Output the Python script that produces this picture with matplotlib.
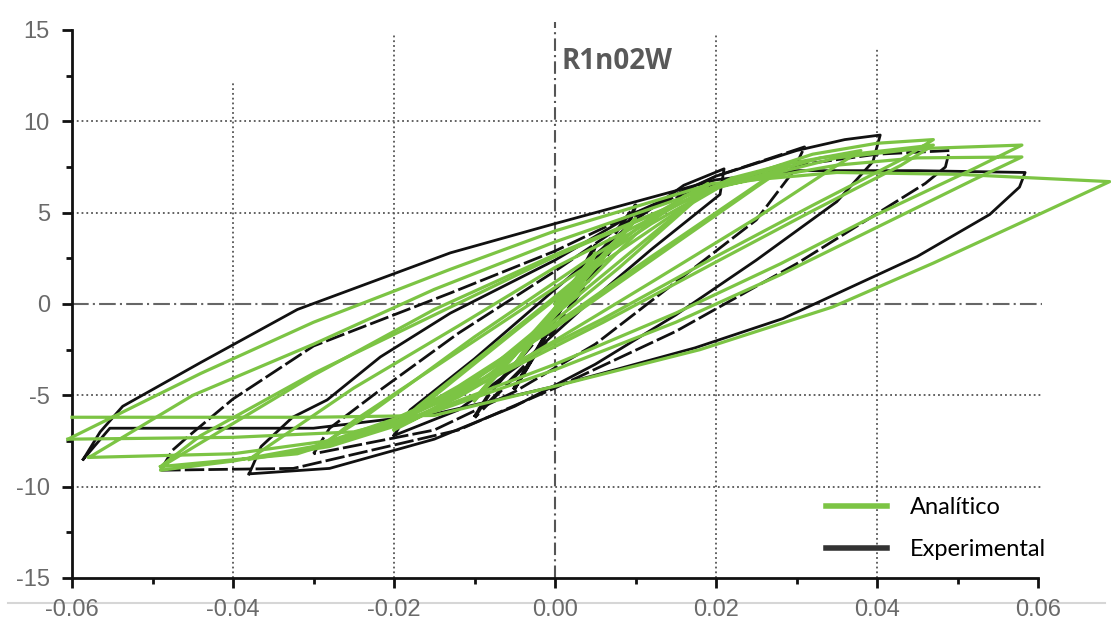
import matplotlib.pyplot as plt
import numpy as np
from matplotlib.lines import Line2D
from matplotlib.ticker import MultipleLocator, FuncFormatter

plt.rcParams['axes.unicode_minus'] = False

# Experimental cycles (drift, kN) - one closed loop per amplitude
exp1_x = [-0.005, -0.002, 0.002, 0.005, 0.004, 0.000, -0.005]
exp1_y = [-4.6, -2.4, 0.8, 3.2, 2.0, -0.8, -4.6]

exp2_x = [-0.010, -0.008, -0.003, 0.003, 0.010, 0.009, 0.004, -0.002, -0.010]
exp2_y = [-6.2, -4.8, -2.3, 1.2, 5.4, 4.2, 1.2, -2.6, -6.2]

exp3_x = [-0.020, -0.018, -0.010, 0.000, 0.010, 0.016, 0.021, 0.0205, 0.012, 0.004, -0.004, -0.012, -0.020]
exp3_y = [-7.2, -5.8, -3.0, 0.8, 4.6, 6.5, 7.4, 6.0, 3.0, 0.0, -3.2, -5.8, -7.2]

exp4_x = [-0.030, -0.028, -0.022, -0.012, 0.000, 0.010, 0.020, 0.031, 0.0295, 0.025, 0.015, 0.005, -0.005, -0.015, -0.030]
exp4_y = [-8.2, -6.8, -4.8, -1.6, 1.8, 4.8, 7.0, 8.6, 7.2, 4.6, 1.2, -2.2, -4.8, -6.9, -8.2]

exp5_x = [-0.038, -0.0365, -0.0326, -0.0283, -0.0217, -0.013, 0.000, 0.010, 0.020, 0.030, 0.036, 0.0404,
          0.0395, 0.035, 0.025, 0.015, 0.005, -0.005, -0.015, -0.028, -0.038]
exp5_y = [-9.3, -7.8, -6.2, -5.25, -2.9, -0.5, 2.4, 5.0, 7.0, 8.4, 9.0, 9.25,
          7.8, 5.6, 2.4, -0.6, -3.3, -5.6, -7.4, -9.0, -9.3]

exp6_x = [-0.049, -0.0475, -0.0457, -0.040, -0.030, -0.013, 0.000, 0.010, 0.020, 0.030, 0.040, 0.049,
          0.0485, 0.046, 0.030, 0.015, 0.000, -0.012, -0.0325, -0.049]
exp6_y = [-9.1, -8.0, -7.3, -5.2, -2.3, 0.6, 2.9, 5.0, 6.6, 7.6, 8.2, 8.4,
          7.5, 6.6, 2.2, -1.5, -4.6, -6.9, -9.0, -9.1]

exp7_x = [-0.0586, -0.0565, -0.0537, -0.044, -0.032, -0.013, 0.000, 0.010, 0.020, 0.030, 0.045, 0.0584,
          0.0577, 0.054, 0.045, 0.0283, 0.0174, 0.000, -0.0147, -0.030, -0.0553, -0.0586]
exp7_y = [-8.5, -7.0, -5.6, -3.2, -0.3, 2.8, 4.4, 5.6, 6.8, 7.3, 7.3, 7.2,
          6.4, 4.9, 2.6, -0.8, -2.4, -4.5, -6.0, -6.8, -6.8, -8.5]

# Analytical response, continuous path split by amplitude
ana1_x = [0.0, 0.005, 0.0038, -0.005, -0.0038, 0.005, 0.0038, -0.005]
ana1_y = [0.0, 2.7, 1.8, -3.3, -2.5, 2.8, 1.9, -3.4]

ana2_x = [-0.005, -0.003, 0.010, 0.0085, -0.010, -0.0085, 0.010, 0.0085, -0.010]
ana2_y = [-3.4, -2.2, 4.6, 3.8, -5.2, -4.4, 4.7, 3.9, -5.3]

ana3_x = [-0.010, -0.007, 0.010, 0.016, 0.019, 0.017, 0.008, -0.008, -0.014, -0.020,
          -0.017, 0.000, 0.012, 0.019, 0.017, 0.006, -0.010, -0.016, -0.020]
ana3_y = [-5.3, -3.6, 3.8, 5.9, 6.5, 5.5, 2.0, -3.8, -5.6, -6.8,
          -5.6, 0.4, 4.8, 6.6, 5.6, 1.6, -4.2, -6.0, -6.9]

ana4_x = [-0.020, -0.016, -0.005, 0.005, 0.015, 0.022, 0.029, 0.025, 0.012, 0.000, -0.012, -0.020, -0.029,
          -0.024, -0.010, 0.005, 0.015, 0.022, 0.029, 0.025, 0.012, 0.000, -0.012, -0.020, -0.029]
ana4_y = [-6.9, -5.4, -1.5, 2.0, 5.0, 6.8, 7.6, 6.4, 2.4, -1.3, -4.7, -6.6, -7.7,
          -6.3, -1.8, 2.7, 5.4, 6.9, 7.7, 6.5, 2.6, -1.1, -4.5, -6.5, -7.8]

ana5_x = [-0.029, -0.025, -0.012, 0.000, 0.012, 0.020, 0.028, 0.038,
          0.034, 0.025, 0.012, 0.000, -0.012, -0.020, -0.028, -0.038]
ana5_y = [-7.8, -6.4, -2.6, 0.9, 4.4, 6.4, 7.6, 8.4,
          7.3, 4.7, 1.2, -2.0, -5.1, -6.7, -7.8, -8.5]

ana6_x = [-0.038, -0.034, -0.025, -0.012, 0.000, 0.0196, 0.032, 0.040, 0.047,
          0.043, 0.032, 0.020, 0.006, -0.008, -0.020, -0.030, -0.040, -0.049,
          -0.0485, -0.044, -0.030, -0.015, 0.000, 0.0196, 0.033, 0.047,
          0.043, 0.032, 0.020, 0.006, -0.008, -0.020, -0.032, -0.049]
ana6_y = [-8.5, -7.3, -4.6, -1.2, 2.0, 6.4, 8.2, 8.8, 9.0,
          7.9, 5.4, 2.6, -0.8, -3.9, -6.3, -7.8, -8.6, -9.1,
          -8.8, -7.6, -3.9, -0.3, 2.7, 6.3, 8.0, 8.7,
          7.6, 5.1, 2.3, -1.0, -4.1, -6.5, -8.2, -8.9]

ana7_x = [-0.049, -0.044, -0.030, -0.015, 0.000, 0.0196, 0.035, 0.045, 0.058,
          0.052, 0.040, 0.028, 0.015, 0.000, -0.015, -0.025, -0.040, -0.058,
          -0.0575, -0.045, -0.030, -0.015, 0.000, 0.0196, 0.035, 0.045, 0.058,
          0.052, 0.040, 0.028, 0.015, 0.000, -0.015, -0.025, -0.040, -0.0605]
ana7_y = [-8.9, -7.2, -3.8, -0.6, 2.6, 6.3, 8.0, 8.5, 8.7,
          7.4, 4.9, 2.2, -0.5, -3.3, -5.8, -7.3, -8.2, -8.4,
          -8.3, -5.0, -2.2, 0.8, 3.4, 6.4, 7.6, 8.0, 8.05,
          6.8, 4.2, 1.6, -1.0, -3.6, -5.9, -7.0, -7.3, -7.4]

ana8_x = [-0.0605, -0.055, -0.044, -0.030, -0.013, 0.000, 0.0196, 0.035, 0.050, 0.0689,
          0.0594, 0.047, 0.0345, 0.018, 0.000, -0.015, -0.030, -0.060]
ana8_y = [-7.4, -6.2, -3.8, -1.0, 1.9, 4.0, 6.6, 7.2, 7.1, 6.7,
          4.76, 2.24, -0.16, -2.5, -4.5, -6.1, -6.2, -6.2]

exp_cycles = [(exp1_x, exp1_y), (exp2_x, exp2_y), (exp3_x, exp3_y), (exp4_x, exp4_y),
              (exp5_x, exp5_y), (exp6_x, exp6_y), (exp7_x, exp7_y)]
ana_cycles = [(ana1_x, ana1_y), (ana2_x, ana2_y), (ana3_x, ana3_y), (ana4_x, ana4_y),
              (ana5_x, ana5_y), (ana6_x, ana6_y), (ana7_x, ana7_y), (ana8_x, ana8_y)]

GREEN = '#7cc444'
BLACK = '#111111'

fig = plt.figure(figsize=(11.11, 6.21), dpi=100)
ax = fig.add_axes([72 / 1111, 43 / 621, 966 / 1111, 548 / 621])
ax.set_xlim(-0.06, 0.06)
ax.set_ylim(-15, 15)

# grid
for gx, top in [(-0.04, 12.2), (-0.02, 14.8), (0.02, 14.8), (0.04, 14.0)]:
    ax.plot([gx, gx], [-15, top], color='#555555', lw=1.3, ls=':', zorder=1)
for gy in [-10, -5, 5, 10]:
    ax.plot([-0.06, 0.0605], [gy, gy], color='#555555', lw=1.3, ls=':', zorder=1, clip_on=False)
ax.plot([-0.06, 0.0605], [0, 0], color='#666666', lw=1.5, ls=(0, (8, 2, 1, 2)), zorder=1, clip_on=False)
ax.plot([0, 0], [-15, 15.45], color='#555555', lw=1.5, ls=(0, (6, 2, 1, 2)), zorder=1, clip_on=False)

# experimental loops (small central ones drawn heavier)
for i, (cx, cy) in enumerate(exp_cycles):
    ls = '-' if i % 2 == 0 else (0, (7, 1.5))
    lw = 2.8 if i < 2 else 2.0
    ax.plot(cx, cy, color=BLACK, lw=lw, ls=ls, zorder=2, clip_on=False,
            solid_joinstyle='round', dash_joinstyle='round')

# analytical path
for cx, cy in ana_cycles:
    ax.plot(cx, cy, color=GREEN, lw=2.3, zorder=3, clip_on=False, solid_joinstyle='round')

# axes styling
for s in ['top', 'right']:
    ax.spines[s].set_visible(False)
for s in ['left', 'bottom']:
    ax.spines[s].set_linewidth(2.0)
    ax.spines[s].set_color('#111111')

ax.xaxis.set_major_locator(MultipleLocator(0.02))
ax.xaxis.set_minor_locator(MultipleLocator(0.01))
ax.yaxis.set_major_locator(MultipleLocator(5))
ax.yaxis.set_minor_locator(MultipleLocator(2.5))
ax.xaxis.set_major_formatter(FuncFormatter(lambda v, p: f"{v:.2f}"))
ax.yaxis.set_major_formatter(FuncFormatter(lambda v, p: f"{v:.0f}"))
ax.tick_params(axis='both', which='major', direction='out', length=7, width=2.0, color='#111111',
               labelsize=17, labelcolor='#6a6a6a')
ax.tick_params(axis='both', which='minor', direction='out', length=4, width=2.0, color='#111111')
ax.tick_params(axis='x', which='major', pad=8)
ax.tick_params(axis='y', which='major', pad=9)
for lab in ax.get_xticklabels() + ax.get_yticklabels():
    lab.set_family('Liberation Sans')

# thin rule behind the x tick labels
fig.add_artist(Line2D([8 / 1111, 1105 / 1111], [1 - 603 / 621, 1 - 603 / 621],
                      color='#d6d6d6', lw=1.5, zorder=0))

ax.text(0.00085, 13.3, 'R1n02W', fontsize=20, fontweight='bold', color='#595959',
        family='Open Sans', va='center', ha='left')

handles = [Line2D([], [], color=GREEN, lw=4), Line2D([], [], color='#333333', lw=4)]
fig.legend(handles, ['Analítico', 'Experimental'], loc='upper left',
           bbox_to_anchor=(826 / 1111, 1 - 497 / 621), bbox_transform=fig.transFigure,
           frameon=False, borderpad=0, borderaxespad=0, handlelength=2.6,
           handletextpad=0.95, labelspacing=0.88, prop={'family': 'Lato', 'size': 17})

fig.savefig('out.png', dpi=100)
